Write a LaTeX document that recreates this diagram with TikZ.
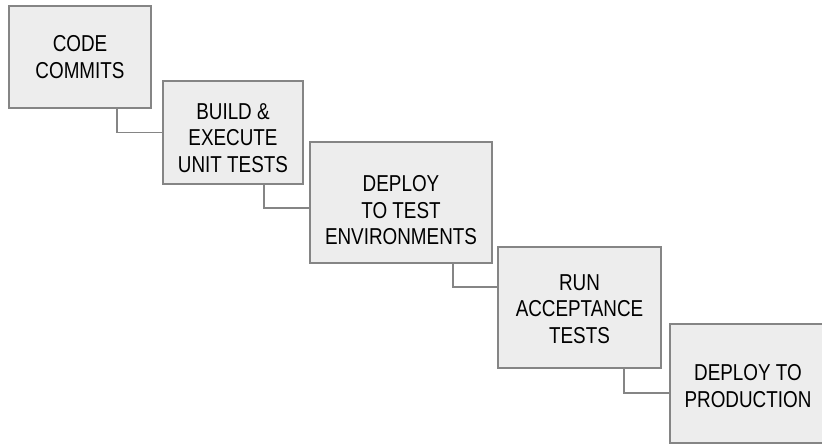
\documentclass[tikz,border=0pt]{standalone}
\usepackage{fontspec}
\setmainfont{Liberation Sans}
\newfontfamily\stagefont[FakeStretch=0.82]{Liberation Sans}
\usepackage{tikz}
\usetikzlibrary{positioning}
\usepackage{xcolor}
\definecolor{boxfill}{HTML}{EDEDED}
\definecolor{boxline}{HTML}{858585}

\tikzset{
  stagebox/.style={draw=boxline, fill=boxfill, line width=1.2pt, align=center,
    inner sep=0pt, font=\stagefont\fontsize{23}{26.5}\selectfont},
  link/.style={draw=boxline, line width=1.2pt}
}

\begin{document}
\begin{tikzpicture}[x=1pt, y=-1pt]
        \useasboundingbox (0,0) rectangle (822,445);
        \node[stagebox, minimum width=142pt, minimum height=102pt] (commit) at (80,57) {CODE\\COMMITS};
        \node[stagebox, minimum width=140pt, minimum height=103pt, text height=80pt] (build) at (233,132.5) {BUILD \&\\EXECUTE\\UNIT TESTS};
        \node[stagebox, minimum width=182pt, minimum height=121pt, text height=85pt] (testenv) at (401,202.5) {DEPLOY\\TO TEST\\ENVIRONMENTS};
        \node[stagebox, minimum width=163pt, minimum height=121pt, text height=72pt] (accept) at (579.5,307.5) {RUN\\ACCEPTANCE\\TESTS};
        \node[stagebox, minimum width=156pt, minimum height=119pt, text height=48pt] (prod) at (748,383.5) {DEPLOY TO\\PRODUCTION};
        % stair connectors
        \draw[link] ([xshift=37pt]commit.south) |- (build.west);
        \draw[link] ([xshift=31pt]build.south) |- ([yshift=-5.5pt]testenv.west);
        \draw[link] ([xshift=52pt]testenv.south) |- ([yshift=20.5pt]accept.west);
        \draw[link] ([xshift=44.5pt]accept.south) |- ([yshift=-9.5pt]prod.west);
      \end{tikzpicture}
\end{document}
